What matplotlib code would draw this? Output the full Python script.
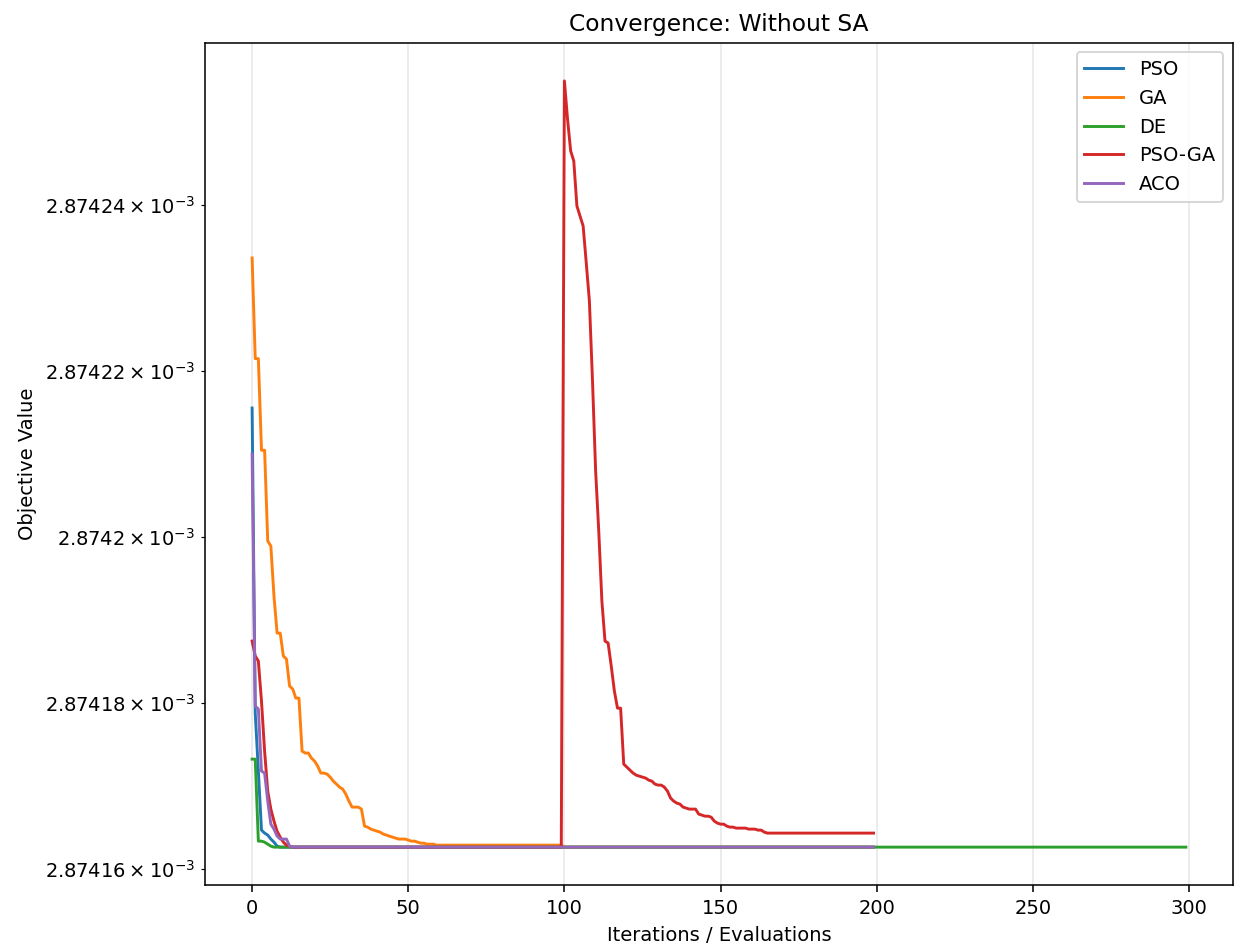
import numpy as np
import matplotlib.pyplot as plt

# best objective value per iteration (units of 1e-3), listed at the iterations
# where the value changes; flat stretches are joined by straight lines
pso_iter = [0, 1, 2, 3, 4, 5, 6, 7, 8, 9, 199]
pso_val = [2.87421554, 2.87417879, 2.87417181, 2.87416470, 2.87416434, 2.87416410,
           2.87416362, 2.87416325, 2.87416277, 2.87416265, 2.87416265]

ga_iter = list(range(0, 61)) + [99, 100, 199]
ga_val = [2.87423361, 2.87422149, 2.87422149, 2.87421046, 2.87421046, 2.87419952,
          2.87419892, 2.87419289, 2.87418843, 2.87418843, 2.87418567, 2.87418530,
          2.87418205, 2.87418169, 2.87418060, 2.87418060, 2.87417422, 2.87417398,
          2.87417398, 2.87417338, 2.87417301, 2.87417241, 2.87417157, 2.87417157,
          2.87417145, 2.87417108, 2.87417060, 2.87417024, 2.87416988, 2.87416964,
          2.87416904, 2.87416819, 2.87416747, 2.87416747, 2.87416747, 2.87416723,
          2.87416518, 2.87416506, 2.87416482, 2.87416470, 2.87416457, 2.87416446,
          2.87416422, 2.87416410, 2.87416397, 2.87416385, 2.87416373, 2.87416362,
          2.87416362, 2.87416362, 2.87416350, 2.87416337, 2.87416337, 2.87416325,
          2.87416313, 2.87416313, 2.87416301, 2.87416301, 2.87416301, 2.87416289,
          2.87416289, 2.87416289, 2.87416265, 2.87416265]

de_iter = [0, 1, 2, 3, 4, 5, 6, 7, 299]
de_val = [2.87417325, 2.87417325, 2.87416337, 2.87416337, 2.87416325, 2.87416301,
          2.87416277, 2.87416265, 2.87416265]

psoga_iter = list(range(0, 14)) + [99] + list(range(100, 166)) + [199]
psoga_val = [2.87418747, 2.87418567, 2.87418506, 2.87418024, 2.87417422, 2.87416940,
             2.87416723, 2.87416578, 2.87416457, 2.87416385, 2.87416325, 2.87416289,
             2.87416277, 2.87416265, 2.87416265,
             2.87425494, 2.87425036, 2.87424651, 2.87424530, 2.87423988, 2.87423867,
             2.87423747, 2.87423301, 2.87422844, 2.87421879, 2.87420796, 2.87420072,
             2.87419229, 2.87418747, 2.87418723, 2.87418446, 2.87418145, 2.87417939,
             2.87417939, 2.87417265, 2.87417229, 2.87417192, 2.87417157, 2.87417132,
             2.87417120, 2.87417108, 2.87417097, 2.87417072, 2.87417060, 2.87417024,
             2.87417012, 2.87417012, 2.87416988, 2.87416940, 2.87416856, 2.87416819,
             2.87416795, 2.87416783, 2.87416747, 2.87416735, 2.87416723, 2.87416723,
             2.87416723, 2.87416663, 2.87416651, 2.87416638, 2.87416638, 2.87416626,
             2.87416578, 2.87416554, 2.87416542, 2.87416542, 2.87416518, 2.87416506,
             2.87416506, 2.87416494, 2.87416494, 2.87416494, 2.87416494, 2.87416482,
             2.87416482, 2.87416482, 2.87416470, 2.87416470, 2.87416446, 2.87416434,
             2.87416434]

aco_iter = [0, 1, 2, 3, 4, 5, 6, 7, 8, 9, 10, 11, 12, 13, 199]
aco_val = [2.87421000, 2.87417964, 2.87417928, 2.87417181, 2.87417157, 2.87416819,
           2.87416542, 2.87416482, 2.87416398, 2.87416362, 2.87416362, 2.87416362,
           2.87416277, 2.87416265, 2.87416265]

series = [("PSO", pso_iter, pso_val),
          ("GA", ga_iter, ga_val),
          ("DE", de_iter, de_val),
          ("PSO-GA", psoga_iter, psoga_val),
          ("ACO", aco_iter, aco_val)]

plt.figure(figsize=(1245 / 140, 947 / 140), dpi=140)
plt.subplots_adjust(left=0.165, right=0.99, top=0.955, bottom=0.065)

for name, it, val in series:
    plt.plot(it, np.array(val) * 1e-3, label=name)

plt.yscale('log')
plt.title("Convergence: Without SA")
plt.xlabel("Iterations / Evaluations")
plt.ylabel("Objective Value")
plt.grid(True, alpha=0.3)
plt.legend()
plt.savefig("out.png", dpi=140)
